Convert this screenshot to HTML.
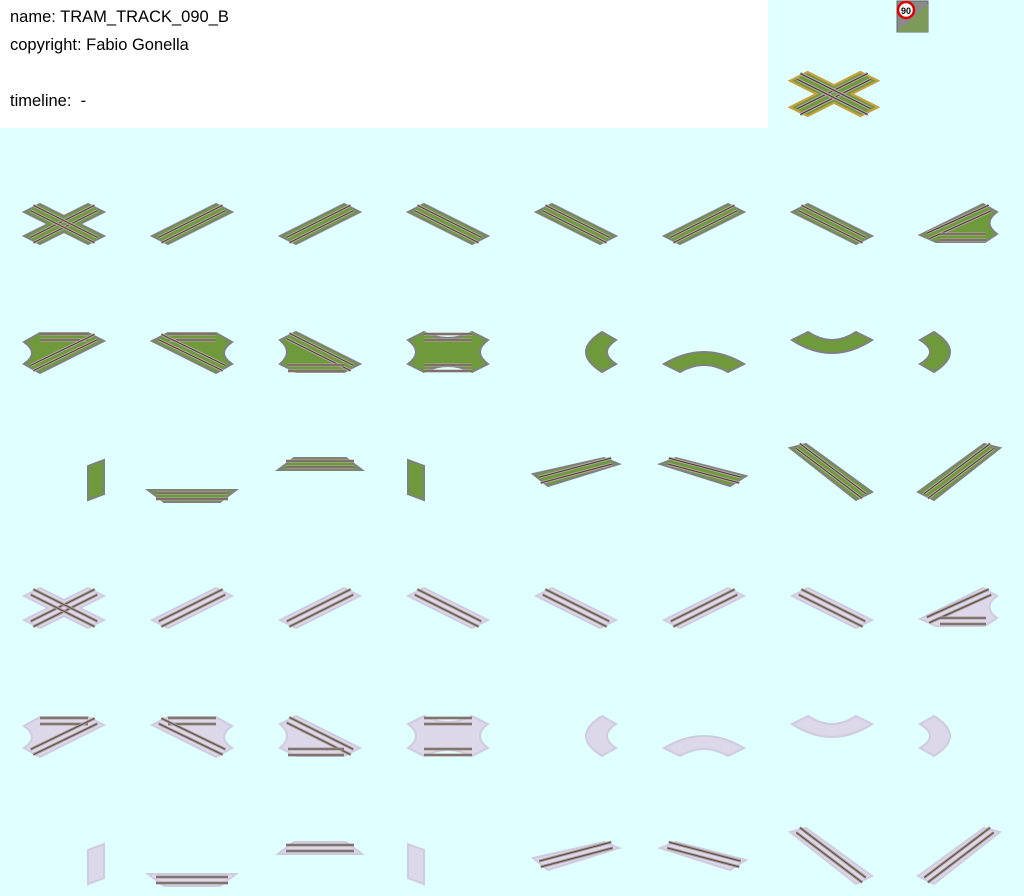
<!DOCTYPE html>
<html><head><meta charset="utf-8">
<style>
html,body{margin:0;padding:0;}
body{width:1024px;height:896px;background:#e0ffff;position:relative;overflow:hidden;font-family:"Liberation Sans",sans-serif;}
#info{position:absolute;left:0;top:0;width:768px;height:128px;background:#fff;}
#info div{position:absolute;left:10px;font-size:16.5px;color:#000;}
svg{position:absolute;left:0;top:0;}
</style></head>
<body>
<div id="info">
<div style="top:8px">name: TRAM_TRACK_090_B</div>
<div style="top:36px">copyright: Fabio Gonella</div>
<div style="top:92px">timeline:&nbsp; -</div>
</div>
<svg id="sheet" width="1024" height="896">
<g>
<rect x="897" y="1" width="31" height="31" fill="#8a8a8a" stroke="#666"/>
<polygon points="897,32 928,4 928,32" fill="#7d9a5a"/>
<circle cx="906" cy="10" r="8" fill="#fff" stroke="#e00000" stroke-width="2.5"/>
<text x="906" y="14" font-size="9" font-weight="bold" text-anchor="middle" font-family="Liberation Sans, sans-serif">90</text>
</g>
</svg>
<script>
const shapes = {
  X: "M24,84 L40,76 L64,88 L88,76 L104,84 L80,96 L104,108 L88,116 L64,104 L40,116 L24,108 L48,96 Z",
  A: "M24,108 L88,76 L104,84 L40,116 Z",
  B: "M24,84 L40,76 L104,108 L88,116 Z",
  T1: "M24,107 L87,76 L101,84 Q86,95 101,106 L89,114 L40,114 Z",
  J0: "M24,86 L40,77 L88,77 L104,85 L40,117 L24,108 Q40,97 24,86 Z",
  J1: "M24,85 L40,77 L88,77 L104,86 Q88,97 104,108 L88,117 Z",
  J2: "M24,84 L40,76 L104,108 L88,116 L40,116 L24,108 Q38,96 24,84 Z",
  J3: "M24,84 L40,76 Q64,88 88,76 L104,84 Q88,96 104,108 L88,116 Q64,104 40,116 L24,108 Q40,96 24,84 Z",
  C0: "M90,76 L104,84 Q86,96 104,108 L90,116 Q58,96 90,76 Z",
  C1: "M24,108 Q64,84 104,108 L88,116 Q64,102 40,116 Z",
  C2: "M24,84 L40,76 Q64,92 88,76 L104,84 Q64,110 24,84 Z",
  C3: "M38,76 Q70,96 38,116 L24,108 Q44,96 24,84 Z",
  S0: "M88,82 L104,76 L104,110 L88,116 Z",
  S1: "M20,106 L108,106 L92,118 L36,118 Z",
  S2: "M38,74 L90,74 L106,86 L22,86 Z",
  S3: "M24,76 L40,82 L40,116 L24,110 Z",
  S4: "M21,90 L92,74 L107,80 L36,102 Z",
  S5: "M20,80 L36,74 L106,92 L90,102 Z",
  S6: "M22,64 L38,60 L104,108 L88,116 Z",
  S7: "M22,108 L88,60 L104,64 L38,116 Z"
};
const rails = {
  X: [[[32,112],[96,80]],[[32,80],[96,112]]],
  A: [[[32,112],[96,80]]], B: [[[32,80],[96,112]]],
  T1: [[[32,108],[94,80]],[[44,109],[90,109]]],
  J0: [[[40,81],[88,81]],[[32,112],[96,81]]],
  J1: [[[40,81],[88,81]],[[32,81],[96,112]]],
  J2: [[[32,80],[96,112]],[[32,112],[88,112]]],
  J3: [[[40,81],[88,81]],[[40,112],[88,112]]],
  S1: [[[28,112],[100,112]]], S2: [[[30,80],[98,80]]],
  S4: [[[28,96],[100,77]]], S5: [[[28,77],[100,96]]],
  S6: [[[30,62],[96,112]]], S7: [[[30,112],[96,62]]]
};
const rowTiles = [
  ["X","A","A","B","B","A","B","T1"],
  ["J0","J1","J2","J3","C0","C1","C2","C3"],
  ["S0","S1","S2","S3","S4","S5","S6","S7"]
];
const themes = [
  {fill:"#6f9a3c", edge:"#808080", rail:"#4a3732", bed:"#b5aaa6"},
  {fill:"#dcd8ea", edge:"#cfcbe0", rail:"#5a4a44", bed:"#a89c96"}
];
const svg = document.getElementById('sheet');
const NS = "http://www.w3.org/2000/svg";
function tile(type, tx, ty, th, name, scale){
  const g = document.createElementNS(NS,'g');
  g.setAttribute('transform', `translate(${tx},${ty})` + (scale?` translate(64,96) scale(${scale}) translate(-64,-96)`:''));
  
  
  const p = document.createElementNS(NS,'path');
  p.setAttribute('d', shapes[type]);
  p.setAttribute('fill', th.fill);
  p.setAttribute('stroke', th.edge);
  p.setAttribute('stroke-width', '2');
  g.appendChild(p);
  (rails[type]||[]).forEach(r=>{
    const [a,b]=r;
    const dx=b[0]-a[0], dy=b[1]-a[1], L=Math.hypot(dx,dy);
    const nx=-dy/L, ny=dx/L;
    [-3,3].forEach(o=>{
      const l=document.createElementNS(NS,'line');
      l.setAttribute('x1',a[0]+nx*o);l.setAttribute('y1',a[1]+ny*o);
      l.setAttribute('x2',b[0]+nx*o);l.setAttribute('y2',b[1]+ny*o);
      l.setAttribute('stroke',th.bed);l.setAttribute('stroke-width','3');
      g.appendChild(l);
      const l2=l.cloneNode();
      l2.setAttribute('stroke',th.rail);l2.setAttribute('stroke-width','1');
      g.appendChild(l2);
    });
  });
  svg.appendChild(g);
}
tile("X", 770, -2, {fill:"#6f9a3c",edge:"#c8a040",rail:"#4a3732",bed:"#b5aaa6"}, "preview-tile", 1.1);
for(let t=0;t<2;t++){
  for(let r=0;r<3;r++){
    for(let c=0;c<8;c++){
      const row=1+t*3+r;
      tile(rowTiles[r][c], c*128, row*128, themes[t], `tile-r${row}-c${c}`);
    }
  }
}
</script>
</body></html>
